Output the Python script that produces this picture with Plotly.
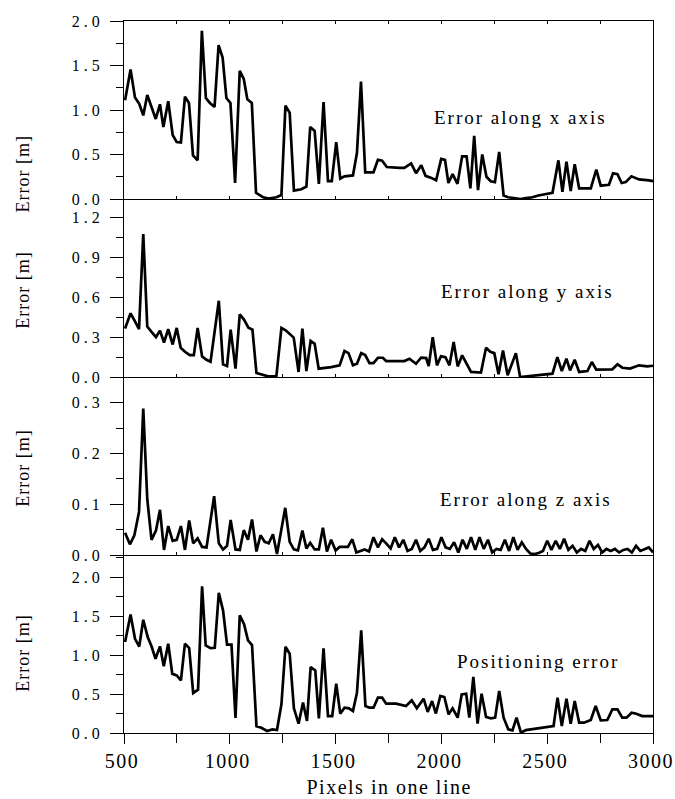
import plotly.graph_objects as go
from plotly.subplots import make_subplots

# ---------------- data ----------------
err_x_pts = [
    (505, 1.11), (531, 1.455), (552, 1.14), (572, 1.07), (591, 0.94), (610, 1.17),
    (630, 1.035), (650, 0.90), (670, 1.065), (686, 0.81), (709, 1.10), (730, 0.72),
    (749, 0.64), (769, 0.635), (788, 1.15), (807, 1.08), (826, 0.49), (848, 0.435),
    (868, 1.89), (887, 1.135), (906, 1.08), (928, 1.035), (947, 1.73), (966, 1.59),
    (984, 1.135), (1003, 1.08), (1025, 0.18), (1047, 1.44), (1066, 1.35), (1083, 1.12),
    (1104, 1.08), (1124, 0.07), (1157, 0.02), (1184, 0.005), (1220, 0.02), (1244, 0.045),
    (1263, 1.05), (1283, 0.97), (1303, 0.095), (1338, 0.11), (1362, 0.14), (1380, 0.81),
    (1401, 0.765), (1421, 0.17), (1443, 1.09), (1464, 0.20), (1482, 0.20), (1503, 0.64),
    (1522, 0.23), (1542, 0.255), (1582, 0.265), (1601, 0.52), (1620, 1.32), (1640, 0.30),
    (1679, 0.30), (1700, 0.44), (1720, 0.43), (1742, 0.36), (1802, 0.35), (1825, 0.35),
    (1857, 0.40), (1880, 0.29), (1905, 0.38), (1925, 0.26), (1950, 0.24), (1975, 0.21),
    (1999, 0.45), (2017, 0.44), (2033, 0.18), (2053, 0.28), (2076, 0.17), (2098, 0.48),
    (2119, 0.48), (2137, 0.12), (2155, 0.71), (2173, 0.10), (2193, 0.50), (2213, 0.25),
    (2233, 0.20), (2253, 0.19), (2273, 0.53), (2294, 0.04), (2315, 0.02), (2340, 0.01),
    (2375, 0.0), (2400, 0.01), (2430, 0.02), (2458, 0.04), (2500, 0.06), (2525, 0.07),
    (2553, 0.435), (2572, 0.08), (2591, 0.42), (2611, 0.09), (2630, 0.39), (2651, 0.12),
    (2706, 0.12), (2732, 0.33), (2753, 0.15), (2792, 0.16), (2811, 0.29), (2832, 0.28),
    (2852, 0.18), (2871, 0.19), (2898, 0.255), (2934, 0.22), (2981, 0.21), (3000, 0.20),
]

err_y_pts = [
    (505, 0.365), (531, 0.48), (552, 0.42), (571, 0.36), (591, 1.077), (610, 0.38),
    (630, 0.34), (651, 0.30), (670, 0.35), (689, 0.26), (709, 0.36), (730, 0.245),
    (749, 0.37), (768, 0.22), (788, 0.19), (811, 0.165), (830, 0.165), (848, 0.37),
    (869, 0.155), (890, 0.13), (909, 0.115), (948, 0.575), (968, 0.095), (987, 0.083),
    (1004, 0.357), (1027, 0.063), (1047, 0.473), (1067, 0.433), (1088, 0.372), (1107, 0.357),
    (1126, 0.03), (1181, 0.005), (1220, 0.005), (1244, 0.37), (1264, 0.352), (1283, 0.322),
    (1302, 0.297), (1325, 0.038), (1343, 0.365), (1362, 0.045), (1382, 0.272), (1401, 0.25),
    (1420, 0.063), (1479, 0.075), (1519, 0.088), (1542, 0.196), (1561, 0.18), (1582, 0.088),
    (1601, 0.10), (1621, 0.18), (1640, 0.165), (1660, 0.105), (1679, 0.105), (1700, 0.145),
    (1723, 0.145), (1739, 0.12), (1825, 0.12), (1849, 0.138), (1880, 0.10), (1904, 0.146),
    (1928, 0.143), (1940, 0.083), (1959, 0.30), (1979, 0.088), (1998, 0.156), (2019, 0.15),
    (2038, 0.088), (2058, 0.264), (2077, 0.08), (2098, 0.163), (2119, 0.105), (2140, 0.038),
    (2187, 0.033), (2211, 0.22), (2231, 0.19), (2250, 0.18), (2270, 0.02), (2291, 0.20),
    (2313, 0.013), (2352, 0.18), (2372, 0.0), (2486, 0.02), (2525, 0.025), (2548, 0.15),
    (2569, 0.045), (2591, 0.138), (2608, 0.05), (2630, 0.13), (2651, 0.038), (2690, 0.045),
    (2711, 0.113), (2732, 0.055), (2808, 0.058), (2832, 0.096), (2855, 0.07), (2891, 0.063),
    (2934, 0.088), (2973, 0.08), (3000, 0.085),
]

err_z_pts = [
    (505, 0.044), (528, 0.021), (549, 0.039), (571, 0.085), (591, 0.289), (610, 0.11),
    (630, 0.03), (651, 0.048), (670, 0.089), (689, 0.01), (709, 0.057), (730, 0.028),
    (749, 0.03), (769, 0.057), (788, 0.01), (808, 0.068), (827, 0.023), (848, 0.033),
    (869, 0.016), (890, 0.015), (926, 0.116), (948, 0.023), (968, 0.011), (987, 0.018),
    (1004, 0.069), (1027, 0.011), (1047, 0.01), (1066, 0.049), (1086, 0.03), (1105, 0.07),
    (1126, 0.007), (1145, 0.039), (1165, 0.026), (1184, 0.023), (1204, 0.041), (1223, 0.002),
    (1262, 0.093), (1283, 0.026), (1303, 0.011), (1322, 0.009), (1343, 0.048), (1362, 0.013),
    (1380, 0.024), (1401, 0.011), (1421, 0.011), (1440, 0.054), (1459, 0.007), (1479, 0.03),
    (1500, 0.009), (1519, 0.016), (1558, 0.016), (1579, 0.031), (1598, 0.005), (1637, 0.011),
    (1658, 0.007), (1679, 0.035), (1700, 0.015), (1720, 0.031), (1739, 0.023), (1760, 0.013),
    (1780, 0.035), (1800, 0.015), (1820, 0.03), (1840, 0.008), (1860, 0.012), (1880, 0.03),
    (1900, 0.008), (1920, 0.015), (1940, 0.032), (1960, 0.01), (1980, 0.012), (2000, 0.035),
    (2020, 0.015), (2040, 0.012), (2060, 0.025), (2080, 0.005), (2100, 0.03), (2120, 0.012),
    (2140, 0.035), (2160, 0.01), (2180, 0.035), (2200, 0.012), (2220, 0.03), (2240, 0.005),
    (2260, 0.012), (2280, 0.01), (2300, 0.03), (2320, 0.008), (2340, 0.035), (2360, 0.01),
    (2380, 0.025), (2400, 0.012), (2420, 0.003), (2440, 0.002), (2460, 0.004), (2480, 0.008),
    (2500, 0.028), (2520, 0.01), (2540, 0.028), (2560, 0.012), (2580, 0.032), (2600, 0.01),
    (2620, 0.018), (2640, 0.005), (2660, 0.012), (2680, 0.008), (2700, 0.028), (2720, 0.012),
    (2740, 0.02), (2760, 0.005), (2780, 0.012), (2800, 0.008), (2820, 0.012), (2840, 0.005),
    (2860, 0.01), (2880, 0.012), (2900, 0.005), (2920, 0.018), (2940, 0.008), (2960, 0.012),
    (2980, 0.015), (3000, 0.005),
]

err_pos_pts = [
    (505, 1.168), (531, 1.523), (552, 1.21), (572, 1.11), (591, 1.455), (612, 1.232),
    (630, 1.113), (649, 0.954), (670, 1.113), (688, 0.856), (709, 1.147), (728, 0.762),
    (749, 0.74), (769, 0.676), (788, 1.147), (808, 1.09), (827, 0.513), (850, 0.556),
    (869, 1.883), (886, 1.125), (909, 1.09), (929, 1.095), (948, 1.80), (968, 1.575),
    (987, 1.134), (1008, 1.134), (1027, 0.193), (1047, 1.51), (1067, 1.40), (1086, 1.19),
    (1105, 1.13), (1126, 0.088), (1149, 0.068), (1176, 0.026), (1201, 0.047), (1223, 0.038),
    (1244, 0.368), (1263, 1.108), (1283, 1.018), (1303, 0.317), (1325, 0.12), (1346, 0.39),
    (1365, 0.154), (1382, 0.847), (1404, 0.804), (1421, 0.188), (1443, 1.087), (1464, 0.218),
    (1484, 0.218), (1503, 0.633), (1522, 0.248), (1542, 0.325), (1563, 0.317), (1582, 0.282),
    (1601, 0.518), (1621, 1.318), (1641, 0.347), (1660, 0.325), (1679, 0.325), (1700, 0.454),
    (1720, 0.454), (1739, 0.377), (1786, 0.377), (1833, 0.347), (1860, 0.42), (1884, 0.317),
    (1916, 0.44), (1935, 0.27), (1956, 0.41), (1974, 0.25), (1995, 0.475), (2014, 0.462),
    (2034, 0.24), (2053, 0.317), (2077, 0.197), (2096, 0.496), (2117, 0.505), (2132, 0.197),
    (2151, 0.72), (2171, 0.12), (2190, 0.505), (2211, 0.205), (2234, 0.188), (2254, 0.197),
    (2273, 0.54), (2294, 0.197), (2316, 0.047), (2336, 0.034), (2355, 0.197), (2376, 0.004),
    (2399, 0.038), (2462, 0.06), (2501, 0.077), (2530, 0.09), (2549, 0.454), (2569, 0.09),
    (2591, 0.44), (2611, 0.12), (2630, 0.41), (2651, 0.133), (2674, 0.133), (2706, 0.167),
    (2729, 0.347), (2753, 0.163), (2784, 0.167), (2808, 0.304), (2832, 0.304), (2855, 0.197),
    (2875, 0.197), (2899, 0.261), (2921, 0.248), (2949, 0.218), (3000, 0.218),
]

panel_labels = ["Error along x axis", "Error along y axis", "Error along z axis", "Positioning error"]
y_title = "Error [m]"
x_title = "Pixels in one line"
x_range = [500, 3000]
y_ranges = [[0, 2.001], [0, 1.342], [0, 0.351], [0, 2.286]]
y_dticks = [0.5, 0.3, 0.1, 0.5]

# ---------------- layout settings ----------------
FONT = "Liberation Serif"
label_xy = [(2373, 0.919), (2406, 0.642), (2401, 0.11), (2457, 0.924)]
ytitle_paper_y = [0.785, 0.622, 0.372, 0.112]

fig = make_subplots(rows=4, cols=1, shared_xaxes=True, vertical_spacing=0)

for i, pts in enumerate([err_x_pts, err_y_pts, err_z_pts, err_pos_pts]):
    xs = [p[0] for p in pts]
    ys = [p[1] for p in pts]
    fig.add_trace(
        go.Scatter(x=xs, y=ys, mode="lines", showlegend=False,
                   line=dict(color="black", width=2.7), hoverinfo="skip"),
        row=i + 1, col=1)

for i in range(4):
    r = i + 1
    fig.update_yaxes(
        range=y_ranges[i], dtick=y_dticks[i], tick0=0, tickformat=".1f",
        ticks="outside", ticklen=13, tickwidth=1.3, tickcolor="black",
        showline=True, linewidth=1.3, linecolor="black", mirror=True,
        showgrid=False, zeroline=False, ticklabelstandoff=3, automargin=False,
        tickfont=dict(family=FONT, size=16, color="black"),
        minor=dict(dtick=y_dticks[i] / 2, tick0=0, ticks="outside", ticklen=7,
                   tickwidth=1.3, tickcolor="black", showgrid=False),
        row=r, col=1)
    if r == 1:
        fig.update_xaxes(
            range=x_range, showline=True, linewidth=1.3, linecolor="black",
            mirror="ticks", ticks="inside", ticklen=3, tickwidth=1.1,
            tickcolor="black", tick0=500, dtick=250, showticklabels=False,
            showgrid=False, zeroline=False, automargin=False, row=r, col=1)
    elif r < 4:
        fig.update_xaxes(
            range=x_range, showline=True, linewidth=1.3, linecolor="black",
            mirror=False, ticks="inside", ticklen=3, tickwidth=1.1,
            tickcolor="black", tick0=500, dtick=250, showticklabels=False,
            showgrid=False, zeroline=False, automargin=False, row=r, col=1)
    else:
        fig.update_xaxes(
            range=x_range, showline=True, linewidth=1.3, linecolor="black",
            mirror=False, ticks="outside", ticklen=10, tickwidth=1.3,
            tickcolor="black", tick0=500, dtick=500, showgrid=False,
            zeroline=False, ticklabelstandoff=0, ticklabelshift=-2,
            automargin=False,
            tickfont=dict(family=FONT, size=20, color="black"),
            minor=dict(dtick=250, tick0=500, ticks="outside", ticklen=9,
                       tickwidth=1.3, tickcolor="black", showgrid=False),
            row=r, col=1)

annotations = []
for i in range(4):
    suffix = "" if i == 0 else str(i + 1)
    annotations.append(dict(
        text=panel_labels[i], x=label_xy[i][0], y=label_xy[i][1],
        xref="x" + suffix, yref="y" + suffix, showarrow=False,
        xanchor="center", yanchor="middle",
        font=dict(family=FONT, size=19, color="black")))
for i in range(4):
    annotations.append(dict(
        text=y_title, x=0, xshift=-101, y=ytitle_paper_y[i],
        xref="paper", yref="paper", showarrow=False, textangle=-90,
        xanchor="center", yanchor="middle",
        font=dict(family=FONT, size=18, color="black")))
annotations.append(dict(
    text=x_title, x=0.5, y=-0.0763, xref="paper", yref="paper",
    showarrow=False, xanchor="center", yanchor="middle",
    font=dict(family=FONT, size=20, color="black")))

fig.update_layout(
    width=675, height=799,
    margin=dict(l=124, r=22, t=21, b=66, autoexpand=False),
    paper_bgcolor="white", plot_bgcolor="white",
    annotations=annotations,
    font=dict(family=FONT, color="black"),
)

css = (
    ".xtick text, .x4tick text {letter-spacing:1.5px}"
    " .ytick text, .y2tick text, .y3tick text, .y4tick text {letter-spacing:4px}"
    " g.annotation text {letter-spacing:2px}"
    " g.annotation[data-index='4'] text, g.annotation[data-index='5'] text,"
    " g.annotation[data-index='6'] text, g.annotation[data-index='7'] text {letter-spacing:1px}"
    " g.annotation[data-index='8'] text {letter-spacing:1.5px}"
)
post = "var s=document.createElement('style');s.innerHTML=\"" + css + "\";document.head.appendChild(s);"

fig.write_html("out.html", post_script=post, config={"displayModeBar": False})
